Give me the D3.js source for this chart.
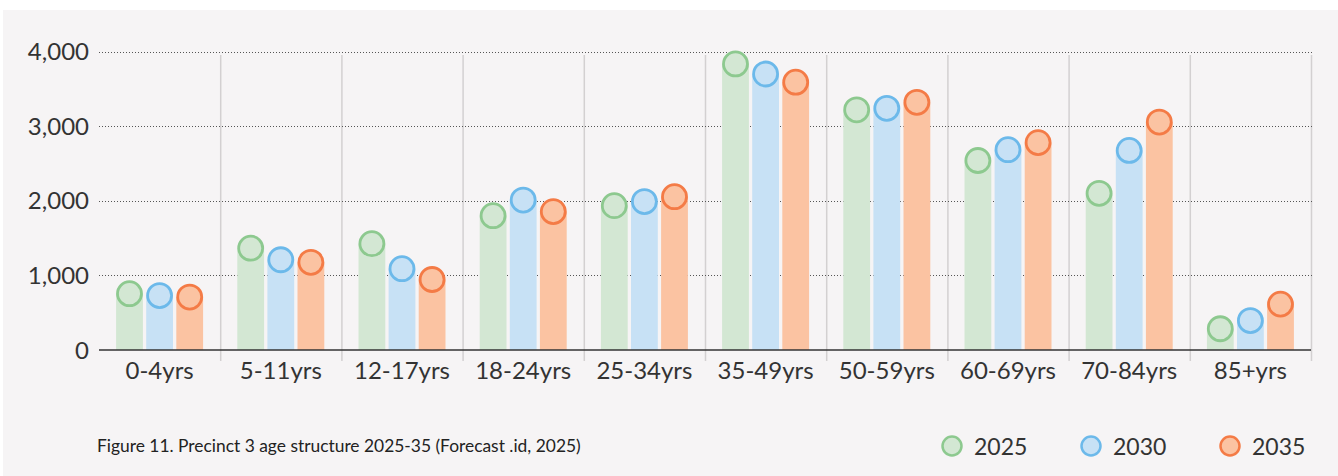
<!DOCTYPE html>
<html>
<head>
<meta charset="utf-8">
<script src="https://cdn.jsdelivr.net/npm/d3@7"></script>
<style>
  html, body { margin: 0; padding: 0; background: #ffffff; }
  svg { display: block; font-family: Lato, "Open Sans", sans-serif; }
</style>
</head>
<body>
<svg id="chart" width="1338" height="476"></svg>
<script>
// Age groups and forecast populations for Precinct 3
const categories = ["0-4yrs", "5-11yrs", "12-17yrs", "18-24yrs", "25-34yrs", "35-49yrs", "50-59yrs", "60-69yrs", "70-84yrs", "85+yrs"];
const years = ["2025", "2030", "2035"];
const values2025 = [755, 1365, 1425, 1800, 1935, 3835, 3220, 2540, 2100, 285];
const values2030 = [730, 1210, 1090, 2010, 1990, 3700, 3240, 2685, 2675, 395];
const values2035 = [710, 1175, 945, 1855, 2055, 3590, 3320, 2780, 3055, 615];
const yTicks = [0, 1000, 2000, 3000, 4000];

const fills = ["#d3e7d3", "#c7e1f5", "#fbc3a2"];
const strokes = ["#8dc98f", "#6cb9ea", "#f47b46"];

const seriesValues = [values2025, values2030, values2035];

const svg = d3.select("#chart");

// panel background
svg.append("rect").attr("x", 3).attr("y", 10).attr("width", 1335).attr("height", 466).attr("fill", "#f6f4f5");

const x = d3.scaleBand().domain(categories).range([99, 1311]).padding(0);
const groupWidth = 87;
const xs = d3.scaleBand().domain(years).range([0, groupWidth]).paddingInner(0.11).paddingOuter(0);
const y = d3.scaleLinear().domain([0, 4000]).range([350, 51.6]);

// vertical separators between age groups
svg.append("g").selectAll("line")
  .data(categories)
  .join("line")
  .attr("x1", d => x(d) + x.bandwidth() + 0.5)
  .attr("x2", d => x(d) + x.bandwidth() + 0.5)
  .attr("y1", 55).attr("y2", 361)
  .attr("stroke", "#d3d0d1").attr("stroke-width", 1.5);

// dotted gridlines
svg.append("g").selectAll("line")
  .data(yTicks.filter(t => t > 0))
  .join("line")
  .attr("x1", 99).attr("x2", 1312)
  .attr("y1", d => Math.round(y(d)) + 0.5).attr("y2", d => Math.round(y(d)) + 0.5)
  .attr("stroke", "#555").attr("stroke-width", 1)
  .attr("stroke-dasharray", "1,2");

// y axis labels
const yAxis = d3.axisLeft(y).tickValues(yTicks).tickSize(0).tickPadding(0).tickFormat(d3.format(","));
const yg = svg.append("g").attr("transform", "translate(89,0)").call(yAxis);
yg.select(".domain").remove();
yg.selectAll("text").attr("font-size", 24).attr("fill", "#333").attr("font-family", "Lato, sans-serif").attr("dy", "0.34em");

// bars with circular caps
const groups = svg.append("g").selectAll("g")
  .data(categories)
  .join("g")
  .attr("transform", d => `translate(${x(d) + (x.bandwidth() - groupWidth) / 2},0)`);

years.forEach((yr, si) => {
  groups.append("rect")
    .attr("x", xs(yr))
    .attr("width", xs.bandwidth())
    .attr("y", (d, i) => y(seriesValues[si][i]))
    .attr("height", (d, i) => y(0) - y(seriesValues[si][i]))
    .attr("fill", fills[si]);
});
years.forEach((yr, si) => {
  groups.append("circle")
    .attr("cx", xs(yr) + xs.bandwidth() / 2)
    .attr("cy", (d, i) => y(seriesValues[si][i]))
    .attr("r", 12)
    .attr("fill", fills[si])
    .attr("stroke", strokes[si])
    .attr("stroke-width", 2.8);
});

// x axis baseline and labels
const xAxis = d3.axisBottom(x).tickSize(0).tickPadding(0);
const xg = svg.append("g").attr("transform", `translate(0,${y(0)})`).call(xAxis);
xg.select(".domain").attr("stroke", "#333").attr("stroke-width", 1.5).attr("d", "M99,0H1311");
xg.selectAll("text").attr("font-size", 24).attr("fill", "#333").attr("font-family", "Lato, sans-serif").attr("y", 29).attr("dy", 0);

// caption
svg.append("text")
  .attr("x", 97).attr("y", 452)
  .attr("font-size", 17.4).attr("fill", "#222")
  .text("Figure 11. Precinct 3 age structure 2025-35 (Forecast .id, 2025)");

// legend
const legendX = [952, 1091, 1230];
const legend = svg.append("g").selectAll("g")
  .data(years)
  .join("g")
  .attr("transform", (d, i) => `translate(${legendX[i]},446)`);
legend.append("circle").attr("r", 9.5)
  .attr("fill", (d, i) => fills[i]).attr("stroke", (d, i) => strokes[i]).attr("stroke-width", 2.5);
legend.append("text").attr("x", 22).attr("y", 9)
  .attr("font-size", 23).attr("fill", "#333").text(d => d);
</script>
</body>
</html>
